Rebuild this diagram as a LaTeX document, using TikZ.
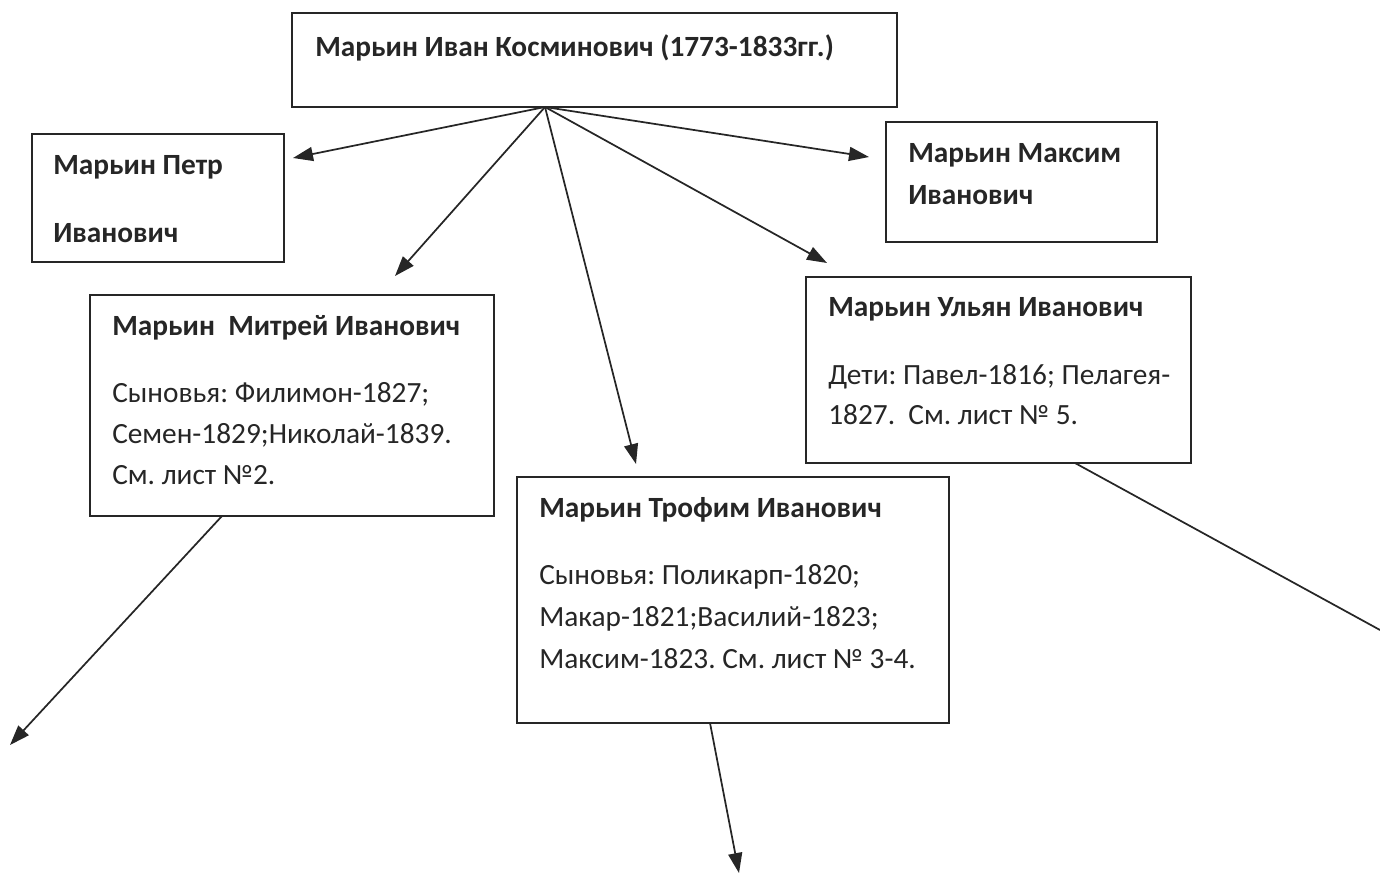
\documentclass[tikz,border=0pt]{standalone}
\usepackage{fontspec}
\setmainfont{Carlito}
\usetikzlibrary{arrows.meta}
\frenchspacing
\begin{document}
\begin{tikzpicture}[x=0.75pt,y=-0.75pt,
  box/.style={draw=black!85,line width=1.3pt,rectangle,inner sep=0pt},
  bt/.style={anchor=base west,inner sep=0pt,text=black!85,font=\fontsize{22}{26}\selectfont\bfseries},
  rt/.style={anchor=base west,inner sep=0pt,text=black!85,font=\fontsize{22}{26}\selectfont},
  link/.style={draw=black!85,line width=1.3pt,-{Triangle[length=15pt,width=10.5pt]}},
  plainlink/.style={draw=black!85,line width=1.3pt}]
\useasboundingbox (0,0) rectangle (1380,874);
% boxes
\draw[box] (292,13) rectangle (897,107);
\draw[box] (32,134) rectangle (284,262);
\draw[box] (90,295) rectangle (494,516);
\draw[box] (886,122) rectangle (1157,242);
\draw[box] (806,277) rectangle (1191,463);
\draw[box] (517,477) rectangle (949,723);
% texts
\node[bt] (t0) at (315,56) {Марьин Иван Косминович (1773-1833гг.)};
\node[bt] (p1) at (53,174) {Марьин Петр};
\node[bt] (p2) at (53,242) {Иванович};
\node[bt] (m1) at (112,335) {Марьин \ Митрей Иванович};
\node[rt] (m2) at (112,402) {Сыновья: Филимон-1827;};
\node[rt] (m3) at (112,443) {Семен-1829;Николай-1839.};
\node[rt] (m4) at (112,484) {См. лист №2.};
\node[bt] (x1) at (908,162) {Марьин Максим};
\node[bt] (x2) at (908,204) {Иванович};
\node[bt] (u1) at (828,316) {Марьин Ульян Иванович};
\node[rt] (u2) at (828,384) {Дети: Павел-1816; Пелагея-};
\node[rt] (u3) at (828,424) {1827. \ См. лист № 5.};
\node[bt] (r1) at (539,517) {Марьин Трофим Иванович};
\node[rt] (r2) at (539,584) {Сыновья: Поликарп-1820;};
\node[rt] (r3) at (539,626) {Макар-1821;Василий-1823;};
\node[rt] (r4) at (539,668) {Максим-1823. См. лист № 3-4.};
% connector points
\coordinate (o) at (545,107);
\coordinate (tp) at (293,158);
\coordinate (tm) at (395,276);
\coordinate (tr) at (636,464);
\coordinate (tu) at (827,263);
\coordinate (tx) at (869,157);
\coordinate (mb) at (222,516);
\coordinate (mt) at (10,745);
\coordinate (rb) at (710,723);
\coordinate (rt) at (739,873);
\coordinate (ub) at (1075,463);
\coordinate (ue) at (1380,630);
\draw[link] (o) -- (tp);
\draw[link] (o) -- (tm);
\draw[link] (o) -- (tr);
\draw[link] (o) -- (tu);
\draw[link] (o) -- (tx);
\draw[link] (mb) -- (mt);
\draw[link] (rb) -- (rt);
\draw[plainlink] (ub) -- (ue);
\end{tikzpicture}
\end{document}
